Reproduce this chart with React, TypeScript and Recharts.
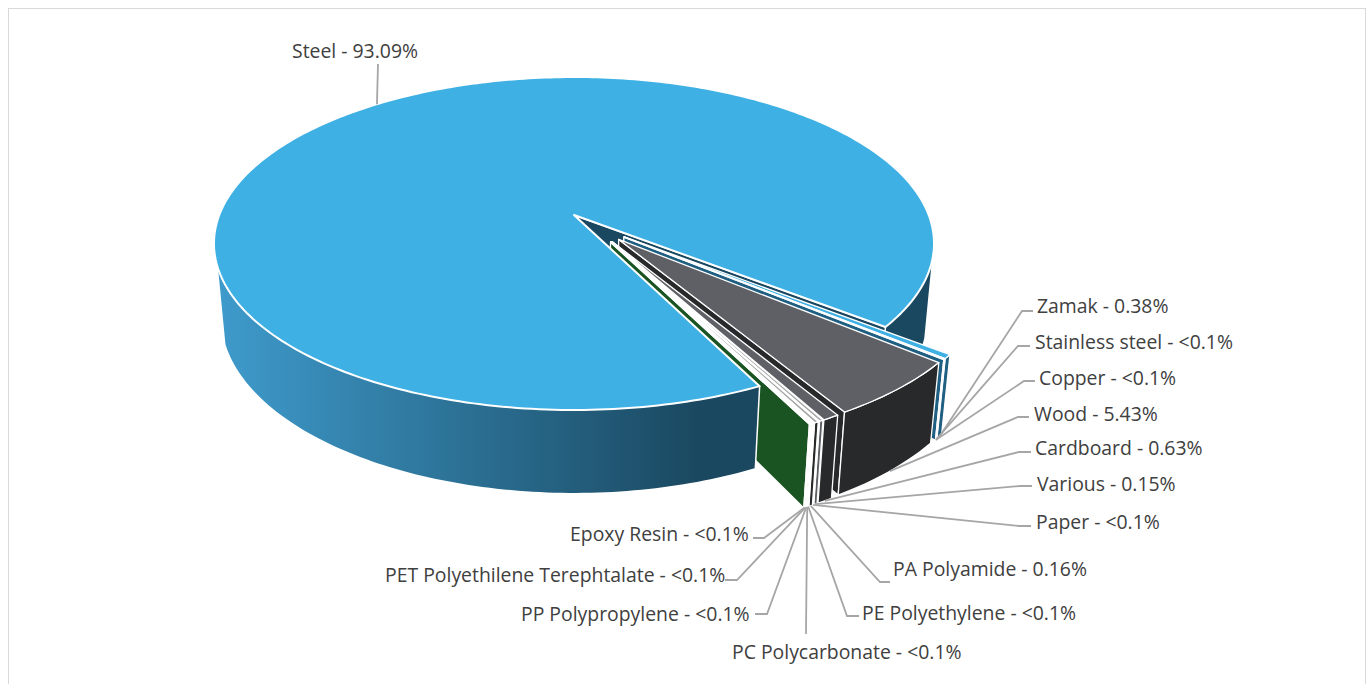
import React from "react";
import { PieChart, Pie } from "recharts";

const materials = [
  "Steel", "Zamak", "Stainless steel", "Copper", "Wood", "Cardboard", "Various", "Paper",
  "PA Polyamide", "PE Polyethylene", "PC Polycarbonate", "PP Polypropylene",
  "PET Polyethilene Terephtalate", "Epoxy Resin",
];
const shares = [93.09, 0.38, 0.04, 0.04, 5.43, 0.63, 0.15, 0.04, 0.16, 0.04, 0.04, 0.04, 0.04, 0.04];
const shareLabels = [
  "93.09%", "0.38%", "<0.1%", "<0.1%", "5.43%", "0.63%", "0.15%", "<0.1%",
  "0.16%", "<0.1%", "<0.1%", "<0.1%", "<0.1%", "<0.1%",
];

const topColors = [
  "#3EB0E4", "#3EB0E4", "#1A4860", "#1F5F82", "#5F6066", "#5F6066", "#A6A6A6", "#D9D9D9",
  "#A6A6A6", "#D9D9D9", "#1A5423", "#5EC46E", "#1A5423", "#5EC46E",
];
const sideColors = [
  "#1A4860", "#1F5F82", "#1A4860", "#1F5F82", "#28292B", "#28292B", "#5F6066", "#A6A6A6",
  "#28292B", "#A6A6A6", "#1A5423", "#3FA854", "#1A5423", "#1A5423",
];

// where each label sits: text start, text middle, elbow x, stub end x, stub y
const labelSpots = [
  [292, 50, 378, 378, 64],
  [1037, 305, 1022, 1033, 311],
  [1035, 341, 1018, 1030, 346],
  [1039, 377, 1024, 1035, 381],
  [1034, 413, 1018, 1029, 417],
  [1035, 447, 1019, 1031, 452],
  [1037, 483, 1020, 1032, 486],
  [1036, 521, 1019, 1031, 526],
  [893, 568, 880, 890, 582],
  [862, 612, 847, 859, 616],
  [732, 651, 806, 806, 634],
  [521, 613, 767, 755, 614],
  [385, 574, 737, 725, 580],
  [570, 533, 764, 753, 538],
];

const rows = materials.map((name, i) => ({ name, value: shares[i] }));

// perspective of the tilted disc: unit circle (u, v) at depth h -> page pixels
const CX = 574;
const CY = 215;
const R = 354.7;
const project = (u: number, v: number, h: number) => {
  const w = 1 - 0.1712 * v + 0.02 * h;
  return [CX + (R * u) / w, (124.8 * v + CY + 78.6 * h) / w];
};
const EXPLODE = 0.192;
// middle of the pulled-out wedge, one full turn after the start angle
const WEDGE_MID = -411;
const RAD = Math.PI / 180;

const offsetOf = (p: any) => {
  if (p.index === 0) return [0, 0];
  const mid = (p.startAngle + p.endAngle) / 2;
  const dir = -(WEDGE_MID + 0.6 * (mid - WEDGE_MID)) * RAD;
  return [EXPLODE * Math.cos(dir), EXPLODE * Math.sin(dir)];
};
const rimPoint = (a: number, h: number, off: number[]) =>
  project(Math.cos(-a * RAD) + off[0], Math.sin(-a * RAD) + off[1], h);
const centerPoint = (h: number, off: number[]) => project(off[0], off[1], h);

const rim = (a0: number, a1: number, h: number, off: number[]) => {
  const count = Math.max(1, Math.ceil(Math.abs(a1 - a0)));
  const pts = [];
  for (let i = 0; i <= count; i++) pts.push(rimPoint(a0 + ((a1 - a0) * i) / count, h, off));
  return pts;
};
const toPath = (pts: number[][]) =>
  "M" + pts.map((p) => `${p[0].toFixed(2)},${p[1].toFixed(2)}`).join("L") + "Z";

const wallPath = (a0: number, a1: number, off: number[]) =>
  toPath([...rim(a0, a1, 0, off), ...rim(a0, a1, 1, off).reverse()]);
const cutPath = (a: number, off: number[]) =>
  toPath([centerPoint(0, off), rimPoint(a, 0, off), rimPoint(a, 1, off), centerPoint(1, off)]);
const topPath = (a0: number, a1: number, off: number[]) =>
  toPath([centerPoint(0, off), ...rim(a0, a1, 0, off)]);

const BackLayer = (p: any) => {
  const off = offsetOf(p);
  const { index, startAngle, endAngle } = p;
  if (index === 0) {
    return (
      <g>
        <path d={wallPath(endAngle, endAngle + 22, off)} fill={sideColors[0]} />
        <path d={cutPath(endAngle, off)} fill={sideColors[0]} stroke="#fff" strokeWidth={1.5} />
      </g>
    );
  }
  return (
    <g stroke="#fff" strokeWidth={1.3} strokeLinejoin="round">
      <path d={cutPath(endAngle, off)} fill={sideColors[index]} />
      <path d={wallPath(startAngle, endAngle, off)} fill={sideColors[index]} />
      <path d={topPath(startAngle, endAngle, off)} fill={topColors[index]} />
    </g>
  );
};

const FrontLayer = (p: any) => {
  if (p.index !== 0) return <g />;
  const off = offsetOf(p);
  const { startAngle, endAngle } = p;
  return (
    <g strokeLinejoin="round">
      <defs>
        <linearGradient id="steelWall" gradientUnits="userSpaceOnUse" x1="222" y1="0" x2="700" y2="0">
          <stop offset="0%" stopColor="#3E9ACB" />
          <stop offset="100%" stopColor="#1A4860" />
        </linearGradient>
      </defs>
      <path d={wallPath(startAngle, startAngle - 98, off)} fill="url(#steelWall)" />
      <path d={`M${rimPoint(startAngle, 0, off).join(",")}L${rimPoint(startAngle, 1, off).join(",")}`} stroke="#fff" strokeWidth={1.5} />
      <path d={topPath(startAngle, endAngle, off)} fill={topColors[0]} stroke="#fff" strokeWidth={2} />
    </g>
  );
};

const LeaderLabel = (p: any) => {
  const { index, startAngle, endAngle } = p;
  const [textX, textY, elbowX, stubX, stubY] = labelSpots[index];
  const off = offsetOf(p);
  const start = rimPoint((startAngle + endAngle) / 2, index === 0 ? 0 : 1, off);
  return (
    <g>
      <polyline
        points={`${start[0]},${start[1]} ${elbowX},${stubY} ${stubX},${stubY}`}
        fill="none"
        stroke="#A6A6A6"
        strokeWidth={1.8}
      />
      <text
        x={textX}
        y={textY}
        dominantBaseline="central"
        fontFamily="'Open Sans', sans-serif"
        fontSize={19.4}
        fill="#404040"
      >
        {`${materials[index]} - ${shareLabels[index]}`}
      </text>
    </g>
  );
};

export default function App() {
  return (
    <div style={{ position: "fixed", left: 0, top: 0, width: 1367, height: 684, overflow: "hidden", background: "#fff" }}>
      <div
        style={{
          position: "absolute",
          left: 8,
          top: 8,
          width: 1356,
          height: 720,
          border: "1.5px solid #D9D9D9",
        }}
      />
      <div style={{ position: "absolute", left: 0, top: 0 }}>
        <PieChart width={1367} height={684} margin={{ top: 0, right: 0, bottom: 0, left: 0 }}>
          <Pie
            data={rows}
            dataKey="value"
            nameKey="name"
            cx={CX}
            cy={CY}
            outerRadius={R}
            startAngle={-63.7}
            endAngle={-423.7}
            shape={BackLayer}
            isAnimationActive={false}
          />
          <Pie
            data={rows}
            dataKey="value"
            nameKey="name"
            cx={CX}
            cy={CY}
            outerRadius={R}
            startAngle={-63.7}
            endAngle={-423.7}
            shape={FrontLayer}
            label={LeaderLabel}
            labelLine={false}
            isAnimationActive={false}
          />
        </PieChart>
      </div>
    </div>
  );
}
